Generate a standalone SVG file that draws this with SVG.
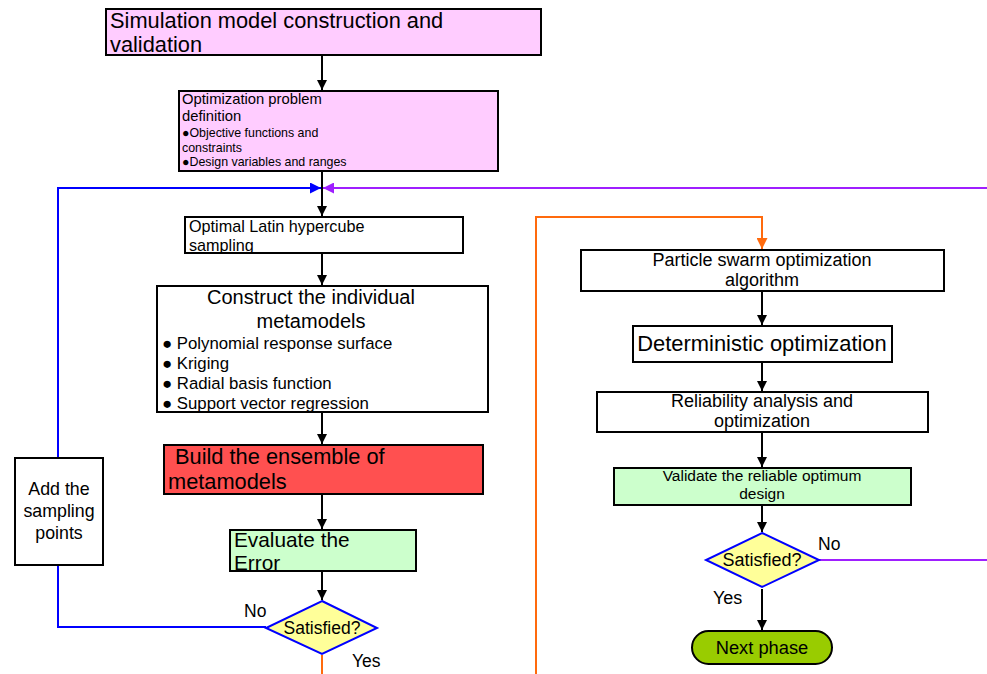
<svg xmlns="http://www.w3.org/2000/svg" width="987" height="674" viewBox="0 0 987 674">
<defs>
<marker id="ab" viewBox="0 0 10 10" refX="10" refY="5" markerWidth="10" markerHeight="12" markerUnits="userSpaceOnUse" orient="auto"><path d="M0,0 L10,5 L0,10 z" fill="#000"/></marker>
<marker id="abl" viewBox="0 0 10 10" refX="10" refY="5" markerWidth="11" markerHeight="11" markerUnits="userSpaceOnUse" orient="auto"><path d="M0,0 L10,5 L0,10 z" fill="#0000FF"/></marker>
<marker id="apu" viewBox="0 0 10 10" refX="10" refY="5" markerWidth="11" markerHeight="11" markerUnits="userSpaceOnUse" orient="auto"><path d="M0,0 L10,5 L0,10 z" fill="#9F1FFF"/></marker>
<marker id="aor" viewBox="0 0 10 10" refX="10" refY="5" markerWidth="11" markerHeight="11" markerUnits="userSpaceOnUse" orient="auto"><path d="M0,0 L10,5 L0,10 z" fill="#FF6A0D"/></marker>
</defs>
<style>
text{font-family:"Liberation Sans",Arial,sans-serif;fill:#000}
.box{stroke:#000;stroke-width:2}
.c{fill:none;stroke:#000;stroke-width:2}
.blue{fill:none;stroke:#0000FF;stroke-width:2}
.pur{fill:none;stroke:#9F1FFF;stroke-width:2}
.org{fill:none;stroke:#FF6A0D;stroke-width:2}
.mid{text-anchor:middle}
</style>
<rect width="987" height="674" fill="#fff"/>
<g id="connectors">
<path class="c" d="M322,55 V90" marker-end="url(#ab)"/>
<path class="c" d="M322,171 V188"/>
<path class="c" d="M322,188 V216" marker-end="url(#ab)"/>
<path class="blue" d="M58,458 V188 H321" marker-end="url(#abl)"/>
<path class="blue" d="M58,565 V627 H266"/>
<path class="pur" d="M987,188 H323" marker-end="url(#apu)"/>
<path class="c" d="M322,253 V285" marker-end="url(#ab)"/>
<path class="c" d="M322,412 V444" marker-end="url(#ab)"/>
<path class="c" d="M322,494 V529" marker-end="url(#ab)"/>
<path class="c" d="M322,571 V600" marker-end="url(#ab)"/>
<path class="org" d="M322,655 V674"/>
<path class="org" d="M536,674 V217 H762 V249" marker-end="url(#aor)"/>
<path class="c" d="M762,291 V325" marker-end="url(#ab)"/>
<path class="c" d="M762,362 V391" marker-end="url(#ab)"/>
<path class="c" d="M762,432 V467" marker-end="url(#ab)"/>
<path class="c" d="M762,505 V532" marker-end="url(#ab)"/>
<path class="pur" d="M819,560 H987"/>
<path class="c" d="M762,589 V630" marker-end="url(#ab)"/>
</g>
<g id="n1">
<rect class="box" x="106" y="9" width="435" height="46" fill="#FFCCFF"/>
<text x="110" y="28" font-size="21.8">Simulation model construction and</text>
<text x="110" y="52" font-size="21.8">validation</text>
</g>
<g id="n2">
<rect class="box" x="179" y="91" width="319" height="80" fill="#FFCCFF"/>
<text x="182" y="104" font-size="14.8">Optimization problem</text>
<text x="182" y="121" font-size="14.8">definition</text>
<text x="182" y="137" font-size="12.4">●Objective functions and</text>
<text x="182" y="152" font-size="12.4">constraints</text>
<text x="182" y="166" font-size="12.4">●Design variables and ranges</text>
</g>
<g id="n3">
<rect class="box" x="185" y="217" width="278" height="36" fill="#fff"/>
<text x="189" y="232" font-size="16.2">Optimal Latin hypercube</text>
<text x="189" y="251" font-size="16.2">sampling</text>
</g>
<g id="n4">
<rect class="box" x="157" y="286" width="331" height="126" fill="#fff"/>
<text x="311" y="304" font-size="20" class="mid">Construct the individual</text>
<text x="311" y="328" font-size="20" class="mid">metamodels</text>
<text x="162" y="349" font-size="16.8">● Polynomial response surface</text>
<text x="162" y="369" font-size="16.8">● Kriging</text>
<text x="162" y="389" font-size="16.8">● Radial basis function</text>
<text x="162" y="409" font-size="16.8">● Support vector regression</text>
</g>
<g id="n5">
<rect class="box" x="164" y="445" width="319" height="49" fill="#FF5050"/>
<text x="175" y="464" font-size="21.8">Build the ensemble of</text>
<text x="168" y="489" font-size="21.8">metamodels</text>
</g>
<g id="n6">
<rect class="box" x="230" y="530" width="186" height="41" fill="#CCFFCC"/>
<text x="234" y="547" font-size="20.8">Evaluate  the</text>
<text x="234" y="570" font-size="20.8">Error</text>
</g>
<g id="d1">
<polygon points="322,601 377,628 322,654 266,628" fill="#FFFF99" stroke="#0000FF" stroke-width="2"/>
<text x="322" y="634" font-size="17.5" class="mid">Satisfied?</text>
<text x="244" y="617" font-size="17.5">No</text>
<text x="352" y="667" font-size="17.5">Yes</text>
</g>
<g id="n7">
<rect class="box" x="15" y="458" width="88" height="107" fill="#fff"/>
<text x="59" y="495" font-size="17.8" class="mid">Add the</text>
<text x="59" y="517" font-size="17.8" class="mid">sampling</text>
<text x="59" y="539" font-size="17.8" class="mid">points</text>
</g>
<g id="n8">
<rect class="box" x="581" y="250" width="363" height="41" fill="#fff"/>
<text x="762" y="266" font-size="18" class="mid">Particle swarm optimization</text>
<text x="762" y="286" font-size="18" class="mid">algorithm</text>
</g>
<g id="n9">
<rect class="box" x="633" y="326" width="259" height="36" fill="#fff"/>
<text x="762" y="351" font-size="21.9" class="mid">Deterministic optimization</text>
</g>
<g id="n10">
<rect class="box" x="597" y="392" width="331" height="40" fill="#fff"/>
<text x="762" y="407" font-size="18" class="mid">Reliability analysis and</text>
<text x="762" y="427" font-size="18" class="mid">optimization</text>
</g>
<g id="n11">
<rect class="box" x="614" y="468" width="297" height="37" fill="#CCFFCC"/>
<text x="762" y="481" font-size="15.5" class="mid">Validate the reliable optimum</text>
<text x="762" y="499" font-size="15.5" class="mid">design</text>
</g>
<g id="d2">
<polygon points="762,533 819,560 762,587 706,560" fill="#FFFF99" stroke="#0000FF" stroke-width="2"/>
<text x="762" y="566" font-size="18" class="mid">Satisfied?</text>
<text x="818" y="550" font-size="17.5">No</text>
<text x="713" y="604" font-size="18">Yes</text>
</g>
<g id="n12">
<rect class="box" x="692" y="631" width="140" height="33" rx="16.5" fill="#99CC00"/>
<text x="762" y="654" font-size="18.3" class="mid">Next phase</text>
</g>
</svg>
